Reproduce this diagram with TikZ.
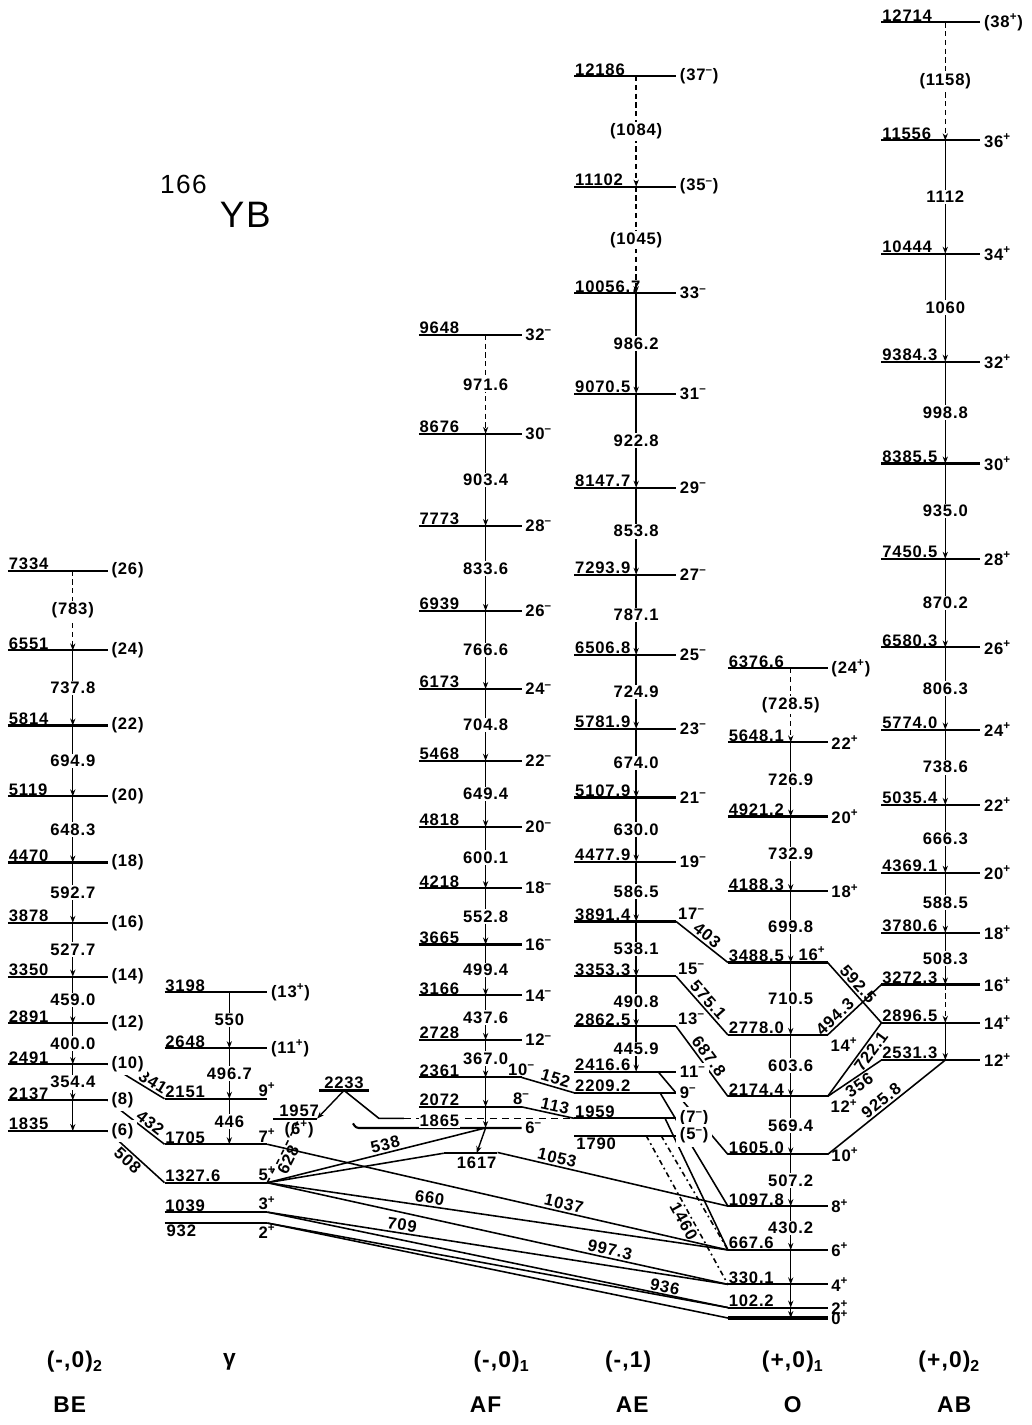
\documentclass[tikz,border=0pt]{standalone}
\usepackage{fontspec}
\setmainfont{Liberation Sans}[LetterSpace=5]
\usetikzlibrary{arrows.meta, calc, backgrounds}

\newcommand{\Sp}{\textsuperscript{+}}
\newcommand{\Sm}{\textsuperscript{–}}

\begin{document}
\begin{tikzpicture}[
    x=0.02cm, y=0.002038cm,
    font=\fontsize{9.5}{11}\selectfont\bfseries,
    lvl/.style={line width=1.2pt},
    gnd/.style={line width=2pt},
    elab/.style={anchor=south west, inner sep=0.3pt},
    elabb/.style={anchor=north west, inner sep=1pt},
    slab/.style={anchor=west, inner sep=2pt},
    slabw/.style={slab, fill=white},
    slabu/.style={anchor=south west, inner sep=1pt},
    slabd/.style={anchor=north west, inner sep=1.5pt},
    tlab/.style={fill=white, inner sep=0.8pt},
    gtr/.style={line width=0.8pt, -{Stealth[length=4pt,width=3pt]}},
    tent/.style={gtr, dash pattern=on 3pt off 2pt},
    link/.style={line width=0.9pt},
    llab/.style={sloped, above, inner sep=1pt},
    bandlab/.style={font=\fontsize{13}{15}\selectfont\bfseries}
]
\useasboundingbox (0,-1050) rectangle (1034,12934);

% title
\node[font=\fontsize{15}{17}\selectfont] (title1) at (184,11119) {166};
\node[font=\fontsize{21}{24}\selectfont] (title2) at (246,10824) {YB};

% (-,0)2 band BE
\foreach \e/\s in {7334/26, 6551/24, 5814/22, 5119/20, 4470/18, 3878/16, 3350/14, 2891/12, 2491/10, 2137/8, 1835/6}{
    \coordinate (BE\s) at (73,\e);
    \coordinate (BE\s-l) at (8,\e);
    \coordinate (BE\s-r) at (108,\e);
    \draw[lvl] (BE\s-l) -- (BE\s-r);
    \node[elab] (BE\s-e) at (BE\s-l) {\e};
    \node[slabw] (BE\s-s) at (BE\s-r) {(\s)};
}
\draw[tent] (BE26) -- node[tlab] (BEt26) {(783)} (BE24);
\foreach \a/\b/\t in {24/22/737.8, 22/20/694.9, 20/18/648.3, 18/16/592.7, 16/14/527.7, 14/12/459.0, 12/10/400.0, 10/8/354.4}
    \draw[gtr] (BE\a) -- node[tlab] (BEt\a) {\t} (BE\b);
\draw[gtr] (BE8) -- (BE6);

% gamma band
\foreach \e/\s in {3198/13, 2648/11}{
    \coordinate (G\s) at (230,\e);
    \coordinate (G\s-l) at (165,\e);
    \coordinate (G\s-r) at (268,\e);
    \draw[lvl] (G\s-l) -- (G\s-r);
    \node[elab] (G\s-e) at (G\s-l) {\e};
    \node[slab] (G\s-s) at (G\s-r) {(\s\Sp)};
}
\foreach \e/\s in {2151/9, 1705/7, 1327.6/5, 1039/3}{
    \coordinate (G\s) at (230,\e);
    \coordinate (G\s-l) at (165,\e);
    \coordinate (G\s-r) at (268,\e);
    \draw[lvl] (G\s-l) -- (G\s-r);
    \node[elab] (G\s-e) at (G\s-l) {\e};
    \node[anchor=south east, inner sep=1pt, xshift=6pt] (G\s-s) at (G\s-r) {\s\Sp};
}
\coordinate (G2) at (230,932);
\coordinate (G2-l) at (165,932);
\coordinate (G2-r) at (268,932);
\draw[lvl] (G2-l) -- (G2-r);
\node[elabb] (G2-e) at (G2-l) {932};
\node[anchor=north east, inner sep=1pt, xshift=6pt] (G2-s) at (G2-r) {2\Sp};
\draw[gtr] (G13) -- node[tlab] (Gt13) {550} (G11);
\draw[gtr] (G11) -- node[tlab] (Gt11) {496.7} (G9);
\draw[gtr] (G9) -- node[tlab] (Gt9) {446} (G7);

% side levels 1957 and 2233
\coordinate (G6) at (300,1957);
\coordinate (G6-l) at (274,1957);
\coordinate (G6-r) at (318,1957);
\draw[lvl] (G6-l) -- (G6-r);
\node[anchor=south, inner sep=1pt] (G6-e) at (G6) {1957};
\node[anchor=north, inner sep=1pt] (G6-s) at (G6) {(6\Sp)};
\coordinate (L2233) at (345,2233);
\coordinate (L2233-l) at (320,2233);
\coordinate (L2233-r) at (370,2233);
\draw[lvl] (L2233-l) -- (L2233-r);
\node[anchor=south, inner sep=1pt] (L2233-e) at (L2233) {2233};
\coordinate (Xb) at (380,1959);
\coordinate (Xe) at (405,1959);

% (-,0)1 band AF
\foreach \e/\s in {9648/32, 8676/30, 7773/28, 6939/26, 6173/24, 5468/22, 4818/20, 4218/18, 3665/16, 3166/14, 2728/12}{
    \coordinate (AF\s) at (487,\e);
    \coordinate (AF\s-l) at (420,\e);
    \coordinate (AF\s-r) at (523,\e);
    \draw[lvl] (AF\s-l) -- (AF\s-r);
    \node[elab] (AF\s-e) at (AF\s-l) {\e};
    \node[slab] (AF\s-s) at (AF\s-r) {\s\Sm};
}
\foreach \e/\s in {2361/10, 2072/8}{
    \coordinate (AF\s) at (487,\e);
    \coordinate (AF\s-l) at (420,\e);
    \coordinate (AF\s-r) at (523,\e);
    \draw[lvl] (AF\s-l) -- (AF\s-r);
    \node[elab] (AF\s-e) at (AF\s-l) {\e};
    \node[anchor=south, inner sep=1pt] (AF\s-s) at (AF\s-r) {\s\Sm};
}
\coordinate (AF6) at (487,1865);
\coordinate (AF6-l) at (357,1865);
\coordinate (AF6-r) at (523,1865);
\coordinate (AF6-t) at (420,1865);
\draw[lvl, rounded corners=1.5pt] ([shift={(-3,45)}]AF6-l) -- (AF6-l) -- (AF6-r);
\node[slab] (AF6-s) at (AF6-r) {6\Sm};
\coordinate (L1617) at (478,1617);
\coordinate (L1617-l) at (445,1617);
\coordinate (L1617-r) at (498,1617);
\draw[lvl] (L1617-l) -- (L1617-r);
\node[anchor=north, inner sep=2pt] (L1617-e) at (L1617) {1617};
\draw[gtr] (AF6) -- (L1617);
\draw[tent] (AF32) -- node[tlab] (AFt32) {971.6} (AF30);
\foreach \a/\b/\t in {30/28/903.4, 28/26/833.6, 26/24/766.6, 24/22/704.8, 22/20/649.4, 20/18/600.1, 18/16/552.8, 16/14/499.4, 14/12/437.6, 12/10/367.0}
    \draw[gtr] (AF\a) -- node[tlab] (AFt\a) {\t} (AF\b);
\draw[gtr] (AF10) -- (AF8);
\draw[gtr] (AF8) -- (AF6);

% (-,1) band AE
\foreach \e/\s in {12186/37, 11102/35}{
    \coordinate (AE\s) at (638,\e);
    \coordinate (AE\s-l) at (576,\e);
    \coordinate (AE\s-r) at (678,\e);
    \draw[lvl] (AE\s-l) -- (AE\s-r);
    \node[elab] (AE\s-e) at (AE\s-l) {\e};
    \node[slab] (AE\s-s) at (AE\s-r) {(\s\Sm)};
}
\foreach \e/\s in {10056.7/33, 9070.5/31, 8147.7/29, 7293.9/27, 6506.8/25, 5781.9/23, 5107.9/21, 4477.9/19}{
    \coordinate (AE\s) at (638,\e);
    \coordinate (AE\s-l) at (576,\e);
    \coordinate (AE\s-r) at (678,\e);
    \draw[lvl] (AE\s-l) -- (AE\s-r);
    \node[elab] (AE\s-e) at (AE\s-l) {\e};
    \node[slab] (AE\s-s) at (AE\s-r) {\s\Sm};
}
\foreach \e/\s in {3891.4/17, 3353.3/15, 2862.5/13}{
    \coordinate (AE\s) at (638,\e);
    \coordinate (AE\s-l) at (576,\e);
    \coordinate (AE\s-r) at (678,\e);
    \draw[lvl] (AE\s-l) -- (AE\s-r);
    \node[elab] (AE\s-e) at (AE\s-l) {\e};
    \node[slabu] (AE\s-s) at (AE\s-r) {\s\Sm};
}
\foreach \e/\s in {2416.6/11, 2209.2/9}{
    \coordinate (AE\s) at (638,\e);
    \coordinate (AE\s-l) at (576,\e);
    \coordinate (AE\s-r) at (678,\e);
    \draw[lvl] (AE\s-l) -- (AE\s-r);
    \node[elab] (AE\s-e) at (AE\s-l) {\e};
    \node[slabw] (AE\s-s) at (AE\s-r) {\s\Sm};
}
\coordinate (AE7) at (638,1959);
\coordinate (AE7-l) at (576,1959);
\coordinate (AE7-r) at (678,1959);
\draw[lvl] (AE7-l) -- (AE7-r);
\node[elab] (AE7-e) at (AE7-l) {1959};
\node[slabw] (AE7-s) at (AE7-r) {(7\Sm)};
\coordinate (AE5) at (638,1790);
\coordinate (AE5-l) at (576,1790);
\coordinate (AE5-r) at (678,1790);
\draw[lvl] (AE5-l) -- (AE5-r);
\node[elabb] (AE5-e) at (AE5-l) {1790};
\node[slabw] (AE5-s) at (AE5-r) {(5\Sm)};
\draw[tent] (AE37) -- node[tlab] (AEt37) {(1084)} (AE35);
\draw[tent] (AE35) -- node[tlab] (AEt35) {(1045)} (AE33);
\foreach \a/\b/\t in {33/31/986.2, 31/29/922.8, 29/27/853.8, 27/25/787.1, 25/23/724.9, 23/21/674.0, 21/19/630.0, 19/17/586.5, 17/15/538.1, 15/13/490.8, 13/11/445.9}
    \draw[gtr] (AE\a) -- node[tlab] (AEt\a) {\t} (AE\b);

% (+,0)1 band O
\foreach \e/\s in {6376.6/24}{
    \coordinate (O\s) at (793,\e);
    \coordinate (O\s-l) at (730,\e);
    \coordinate (O\s-r) at (830,\e);
    \draw[lvl] (O\s-l) -- (O\s-r);
    \node[elab] (O\s-e) at (O\s-l) {\e};
    \node[slab] (O\s-s) at (O\s-r) {(\s\Sp)};
}
\foreach \e/\s in {5648.1/22, 4921.2/20, 4188.3/18, 1605.0/10, 1097.8/8, 667.6/6, 330.1/4, 102.2/2}{
    \coordinate (O\s) at (793,\e);
    \coordinate (O\s-l) at (730,\e);
    \coordinate (O\s-r) at (830,\e);
    \draw[lvl] (O\s-l) -- (O\s-r);
    \node[elab] (O\s-e) at (O\s-l) {\e};
    \node[slab] (O\s-s) at (O\s-r) {\s\Sp};
}
\foreach \e/\s in {3488.5/16}{
    \coordinate (O\s) at (793,\e);
    \coordinate (O\s-l) at (730,\e);
    \coordinate (O\s-r) at (830,\e);
    \draw[lvl] (O\s-l) -- (O\s-r);
    \node[elab] (O\s-e) at (O\s-l) {\e};
    \node[anchor=south east, inner sep=1pt] (O\s-s) at (O\s-r) {\s\Sp};
}
\foreach \e/\s in {2778.0/14, 2174.4/12}{
    \coordinate (O\s) at (793,\e);
    \coordinate (O\s-l) at (730,\e);
    \coordinate (O\s-r) at (830,\e);
    \draw[lvl] (O\s-l) -- (O\s-r);
    \node[elab] (O\s-e) at (O\s-l) {\e};
    \node[slabd] (O\s-s) at (O\s-r) {\s\Sp};
}
\coordinate (O0) at (793,0);
\coordinate (O0-l) at (730,0);
\coordinate (O0-r) at (830,0);
\draw[gnd] (O0-l) -- (O0-r);
\node[slab] (O0-s) at (O0-r) {0\Sp};
\draw[tent] (O24) -- node[tlab] (Ot24) {(728.5)} (O22);
\foreach \a/\b/\t in {22/20/726.9, 20/18/732.9, 18/16/699.8, 16/14/710.5, 14/12/603.6, 12/10/569.4, 10/8/507.2, 8/6/430.2}
    \draw[gtr] (O\a) -- node[tlab] (Ot\a) {\t} (O\b);
\foreach \a/\b in {6/4, 4/2, 2/0}
    \draw[gtr] (O\a) -- (O\b);

% (+,0)2 band AB
\foreach \e/\s in {12714/38}{
    \coordinate (AB\s) at (948,\e);
    \coordinate (AB\s-l) at (884,\e);
    \coordinate (AB\s-r) at (983,\e);
    \draw[lvl] (AB\s-l) -- (AB\s-r);
    \node[elab] (AB\s-e) at (AB\s-l) {\e};
    \node[slab] (AB\s-s) at (AB\s-r) {(\s\Sp)};
}
\foreach \e/\s in {11556/36, 10444/34, 9384.3/32, 8385.5/30, 7450.5/28, 6580.3/26, 5774.0/24, 5035.4/22, 4369.1/20, 3780.6/18, 3272.3/16, 2896.5/14, 2531.3/12}{
    \coordinate (AB\s) at (948,\e);
    \coordinate (AB\s-l) at (884,\e);
    \coordinate (AB\s-r) at (983,\e);
    \draw[lvl] (AB\s-l) -- (AB\s-r);
    \node[elab] (AB\s-e) at (AB\s-l) {\e};
    \node[slab] (AB\s-s) at (AB\s-r) {\s\Sp};
}
\draw[tent] (AB38) -- node[tlab] (ABt38) {(1158)} (AB36);
\foreach \a/\b/\t in {36/34/1112, 34/32/1060, 32/30/998.8, 30/28/935.0, 28/26/870.2, 26/24/806.3, 24/22/738.6, 22/20/666.3, 20/18/588.5, 18/16/508.3}
    \draw[gtr] (AB\a) -- node[tlab] (ABt\a) {\t} (AB\b);
\draw[tent] (AB16) -- (AB14);
\draw[gtr] (AB14) -- (AB12);

% connecting transitions, kept behind the labels
\begin{scope}[on background layer]
% (-,0)2 into gamma
\draw[link] (BE10-r) -- node[llab, pos=0.72] (t341) {341} (G9-l);
\draw[link] (BE8-r) -- node[llab, pos=0.66] (t432) {432} (G7-l);
\draw[link] (BE6-r) -- node[llab, below, pos=0.45] (t508) {508} (G5-l);
% gamma down to ground band
\draw[link] (G5-r) -- node[llab, pos=0.35] (t660) {660} (O6-l);
\draw[link] (G5-r) -- node[llab, pos=0.74] (t997) {997.3} (O4-l);
\draw[link] (G3-r) -- node[llab, pos=0.29] (t709) {709} (O4-l);
\draw[link] (G3-r) -- node[llab, pos=0.86, inner sep=0.5pt] (t936) {936} (O2-l);
\draw[link] (G2-r) -- (O2-l);
\draw[link] (G2-r) -- (O0-l);
\draw[link] (G7-r) -- node[llab, pos=0.64] (t1037) {1037} (O6-l);
\draw[link] ($(G9-r)!0.5!(O8-l)$) -- node[llab, pos=0.25] (t1053) {1053} (O8-l);
% side levels
\draw[link] (G5-r) -- node[llab, pos=0.55] (t538) {538} (AF6);
\draw[link] (G5-r) -- (L1617-l);
\draw[link, dashed] (G5-r) -- node[llab, below, pos=0.42] (t628) {628} (G6);
\draw[link] (L2233) -- (Xb) -- (Xe);
\draw[link, dash pattern=on 4pt off 3pt] (Xe) -- (AE7-l);
\draw[gtr] (L2233) -- (G6-r);
% (-,0)1 into (-,1)
\draw[link] (AF10-r) -- node[llab, pos=0.6] (t152) {152} (AE9-l);
\draw[link] (AF8-r) -- node[llab, pos=0.6] (t113) {113} (AE7-l);
% (-,1) into ground band
\coordinate (AE11-k) at (660,2416.6);
\coordinate (AE9-k) at (662,2209.2);
\coordinate (AE7-k) at (667,1959);
\coordinate (AE5-k) at (648,1790);
\coordinate (AE5-j) at (663,1790);
\draw[link] (AE17-r) -- node[llab] (t403) {403} (O16-l);
\draw[link] (AE15-r) -- node[llab] (t575) {575.1} (O14-l);
\draw[link] (AE13-r) -- node[llab] (t687) {687.8} (O12-l);
\draw[link] (AE11-k) -- (O10-l);
\draw[link] (AE9-k) -- (O8-l);
\draw[link] (AE7-k) -- (O6-l);
\draw[link, dash pattern=on 3pt off 2pt on 1pt off 2pt] (AE5-k) -- node[llab, below, pos=0.55] (t1460) {1460} (O4-l);
\draw[link, dash pattern=on 3pt off 2pt on 1pt off 2pt] (AE5-j) -- (O6-l);
% ground band into (+,0)2
\draw[link] (O16-r) -- node[llab, pos=0.45] (t592) {592.5} (AB14-l);
\draw[link] (O14-r) -- node[llab, pos=0.24] (t494) {494.3} (AB16-l);
\draw[link] (O12-r) -- node[llab, below, pos=0.68] (t722) {722.1} (AB14-l);
\draw[link] (O12-r) -- node[llab, below, pos=0.5] (t356) {356} (AB12-l);
\draw[link] (O10-r) -- node[llab] (t925) {925.8} (AB12);
\end{scope}

% the 1865 label sits over the dashed line
\node[elab, fill=white] (AF6-e) at (AF6-t) {1865};

% band names
\node[bandlab] (BEk) at (75,-432) {(-,0)\textsubscript{2}};
\node[bandlab] (Gk) at (230,-432) {γ};
\node[bandlab] (AFk) at (503,-432) {(-,0)\textsubscript{1}};
\node[bandlab] (AEk) at (630,-432) {(-,1)};
\node[bandlab] (Ok) at (795,-432) {(+,0)\textsubscript{1}};
\node[bandlab] (ABk) at (952,-432) {(+,0)\textsubscript{2}};
\node[bandlab] (BEn) at (70,-854) {BE};
\node[bandlab] (AFn) at (487,-854) {AF};
\node[bandlab] (AEn) at (634,-854) {AE};
\node[bandlab] (On) at (795,-854) {O};
\node[bandlab] (ABn) at (957,-854) {AB};

\end{tikzpicture}
\end{document}
